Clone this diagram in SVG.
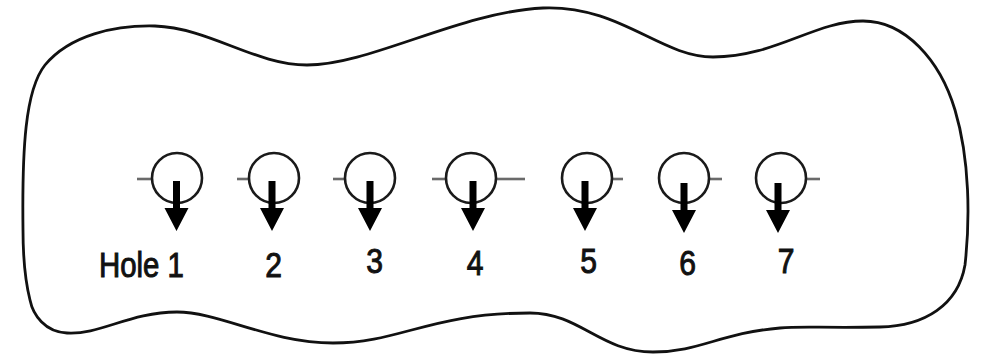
<svg xmlns="http://www.w3.org/2000/svg" xmlns:xlink="http://www.w3.org/1999/xlink" width="981" height="354" viewBox="0 0 981 354">
  <style>
    .outline { fill: none; stroke: #111; stroke-width: 2.8; }
    .hole { fill: none; stroke: #1a1a1a; stroke-width: 2.6; }
    .tick { stroke: #6a6a6a; stroke-width: 2.6; fill: none; }
    .arrow { fill: #000; }
    .lbl { font-family: "Liberation Sans", Arial, sans-serif; font-size: 35px; fill: #111; stroke: #111; stroke-width: 1; }
  </style>
  <defs>
    <polygon id="arr" class="arrow" points="-3.5,0 3.5,0 3.5,27 12,27 0,50 -12,27 -3.5,27"/>
  </defs>
  <rect width="981" height="354" fill="#fff"/>
  <g id="board">
    <path class="outline" d="M 23,230 C 22,150 25,90 45,65 C 70,35 115,25 155,26 C 210,28 255,65 307,65 C 370,65 460,12 543,8 C 620,5 660,57 713,57 C 775,57 815,21 863,21 C 905,21 940,60 955,110 C 970,160 970,220 965,265 C 958,305 925,326 880,327 C 820,328 800,326 780,328 C 720,333 700,352 653,352 C 600,352 580,313 530,313 C 430,313 400,343 333,343 C 270,343 220,312 177,312 C 130,312 100,335 67,333 C 45,332 33,315 30,300 C 25,280 23,260 23,230 Z"/>
  </g>
  <g id="hole1">
    <line class="tick" x1="137" y1="179" x2="152" y2="179"/>
    <circle class="hole" cx="177" cy="178" r="25"/>
    <text class="lbl" transform="translate(99,277) scale(0.84,1)">Hole 1</text>
  </g>
  <g id="hole2">
    <line class="tick" x1="237" y1="179" x2="249" y2="179"/>
    <circle class="hole" cx="274" cy="178" r="25"/>
    <text class="lbl" text-anchor="middle" transform="translate(273.5,277) scale(0.86,1)">2</text>
  </g>
  <g id="hole3">
    <line class="tick" x1="333" y1="179" x2="345" y2="179"/>
    <circle class="hole" cx="370" cy="178" r="25"/>
    <text class="lbl" text-anchor="middle" transform="translate(374.5,273) scale(0.86,1)">3</text>
  </g>
  <g id="hole4">
    <line class="tick" x1="432" y1="179" x2="446" y2="179"/>
    <line class="tick" x1="496" y1="179" x2="525" y2="179"/>
    <circle class="hole" cx="471" cy="178" r="25"/>
    <text class="lbl" text-anchor="middle" transform="translate(475,275) scale(0.86,1)">4</text>
  </g>
  <g id="hole5">
    <line class="tick" x1="612" y1="179" x2="623" y2="179"/>
    <circle class="hole" cx="587" cy="178" r="25"/>
    <text class="lbl" text-anchor="middle" transform="translate(588.5,273) scale(0.86,1)">5</text>
  </g>
  <g id="hole6">
    <line class="tick" x1="709" y1="179" x2="722" y2="179"/>
    <circle class="hole" cx="684" cy="178" r="25"/>
    <text class="lbl" text-anchor="middle" transform="translate(687.5,275) scale(0.86,1)">6</text>
  </g>
  <g id="hole7">
    <line class="tick" x1="806" y1="179" x2="820" y2="179"/>
    <circle class="hole" cx="781" cy="178" r="25"/>
    <text class="lbl" text-anchor="middle" transform="translate(786,273) scale(0.86,1)">7</text>
  </g>
  <g id="connectors">
    <use xlink:href="#arr" x="176.5" y="181"/>
    <use xlink:href="#arr" x="272" y="181"/>
    <use xlink:href="#arr" x="370" y="181"/>
    <use xlink:href="#arr" x="473" y="181"/>
    <use xlink:href="#arr" x="585" y="181"/>
    <use xlink:href="#arr" x="684" y="183"/>
    <use xlink:href="#arr" x="778" y="183"/>
  </g>
</svg>
